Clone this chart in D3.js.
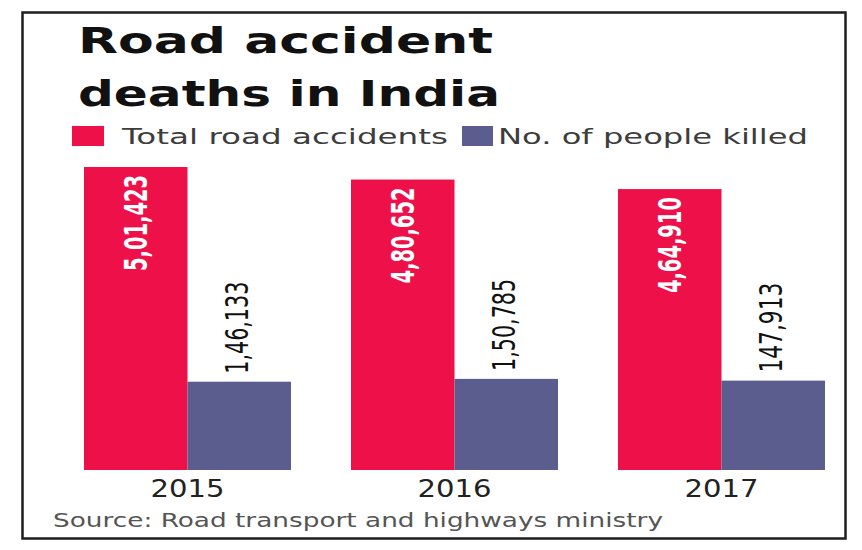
<!DOCTYPE html>
<html><head><meta charset="utf-8">
<script src="https://cdn.jsdelivr.net/npm/d3@7"></script>
<style>html,body{margin:0;padding:0;background:#fff;}svg{display:block;}</style>
</head><body>
<svg id="chart" width="862" height="550"></svg>
<script>
const years = ["2015", "2016", "2017"];
const seriesNames = ["Total road accidents", "No. of people killed"];
const totalAccidents = [501423, 480652, 464910];
const peopleKilled = [146133, 150785, 147913];
const accidentLabels = ["5,01,423", "4,80,652", "4,64,910"];
const killedLabels = ["1,46,133", "1,50,785", "147,913"];
const colors = ["#ee1049", "#5a5d8d"];
const titleLines = ["Road accident", "deaths in India"];
const sourceText = "Source: Road transport and highways ministry";

const svg = d3.select("#chart");
svg.append("rect").attr("width", 862).attr("height", 550).attr("fill", "#fff");
svg.append("rect").attr("x", 22.5).attr("y", 12.5).attr("width", 823).attr("height", 526)
  .attr("fill", "none").attr("stroke", "#1e1e1e").attr("stroke-width", 2.5);

function stretch(sel, w) {
  sel.attr("textLength", w).attr("lengthAdjust", "spacingAndGlyphs");
}

// Title
const tFont = "'DejaVu Sans', Lato, sans-serif";
const t1 = svg.append("text").attr("x", 78).attr("y", 53).text(titleLines[0])
  .attr("font-family", tFont).attr("font-weight", "bold").attr("font-size", 35).attr("fill", "#111");
stretch(t1, 415);
const t2 = svg.append("text").attr("x", 78).attr("y", 106).text(titleLines[1])
  .attr("font-family", tFont).attr("font-weight", "bold").attr("font-size", 35).attr("fill", "#111");
stretch(t2, 422);

// Legend
const legX = [72, 462], legTextX = [122, 498], legW = [326, 310];
seriesNames.forEach((s, i) => {
  svg.append("rect").attr("x", legX[i]).attr("y", 126).attr("width", i === 0 ? 32 : 31).attr("height", 20)
    .attr("fill", colors[i]);
  const lt = svg.append("text").attr("x", legTextX[i]).attr("y", 144).text(s)
    .attr("font-family", "'DejaVu Sans', Verdana, sans-serif").attr("font-size", 22).attr("fill", "#3d3d3d");
  stretch(lt, legW[i]);
});

// Scales
const x0 = d3.scaleBand().domain(years).range([84, 825]).paddingInner(0.2247).paddingOuter(0);
const x1 = d3.scaleBand().domain([0, 1]).range([0, x0.bandwidth()]).padding(0);
const y = d3.scaleLinear().domain([0, d3.max(totalAccidents)]).range([470, 167]);

const data = years.map((yr, i) => ({yr, vals: [totalAccidents[i], peopleKilled[i]], labels: [accidentLabels[i], killedLabels[i]]}));

const g = svg.append("g");
const groups = g.selectAll("g.grp").data(data).join("g").attr("class", "grp")
  .attr("transform", d => `translate(${x0(d.yr)},0)`);

groups.selectAll("rect").data(d => d.vals.map((v, k) => ({v, k})))
  .join("rect")
  .attr("x", d => x1(d.k)).attr("width", x1.bandwidth())
  .attr("y", d => y(d.v)).attr("height", d => y(0) - y(d.v))
  .attr("fill", d => colors[d.k]);

// Value labels
const lblFont = "'Liberation Sans Narrow', 'DejaVu Sans Condensed', 'Arial Narrow', sans-serif";
groups.each(function(d) {
  const gg = d3.select(this);
  const cx0 = x1(0) + x1.bandwidth() / 2;
  const r = gg.append("text")
    .attr("transform", `translate(${cx0},${y(d.vals[0]) + 8}) rotate(-90)`)
    .attr("text-anchor", "end").attr("dy", "0.36em")
    .attr("font-family", lblFont).attr("font-weight", "bold").attr("font-size", 32)
    .attr("fill", "#fff").text(d.labels[0]);
  stretch(r, 96);
  const cx1 = x1(1) + x1.bandwidth() / 2 - 3;
  const b = gg.append("text")
    .attr("transform", `translate(${cx1},${y(d.vals[1]) - 8}) rotate(-90)`)
    .attr("text-anchor", "start").attr("dy", "0.36em")
    .attr("font-family", lblFont).attr("font-size", 32)
    .attr("fill", "#111").text(d.labels[1]);
  stretch(b, d.labels[1].length === 8 ? 92 : 90);
});

// X axis labels
const xAxis = svg.append("g").attr("transform", "translate(0,470)")
  .call(d3.axisBottom(x0).tickSize(0).tickPadding(10));
xAxis.select(".domain").remove();
xAxis.selectAll("text").attr("font-family", "'DejaVu Sans', Verdana, sans-serif")
  .attr("font-size", 24).attr("fill", "#222").each(function() { stretch(d3.select(this), 74); });

// Source
const src = svg.append("text").attr("x", 53).attr("y", 527).text(sourceText)
  .attr("font-family", "'DejaVu Sans', Verdana, sans-serif").attr("font-size", 19).attr("fill", "#555");
stretch(src, 610);
</script>
</body></html>
